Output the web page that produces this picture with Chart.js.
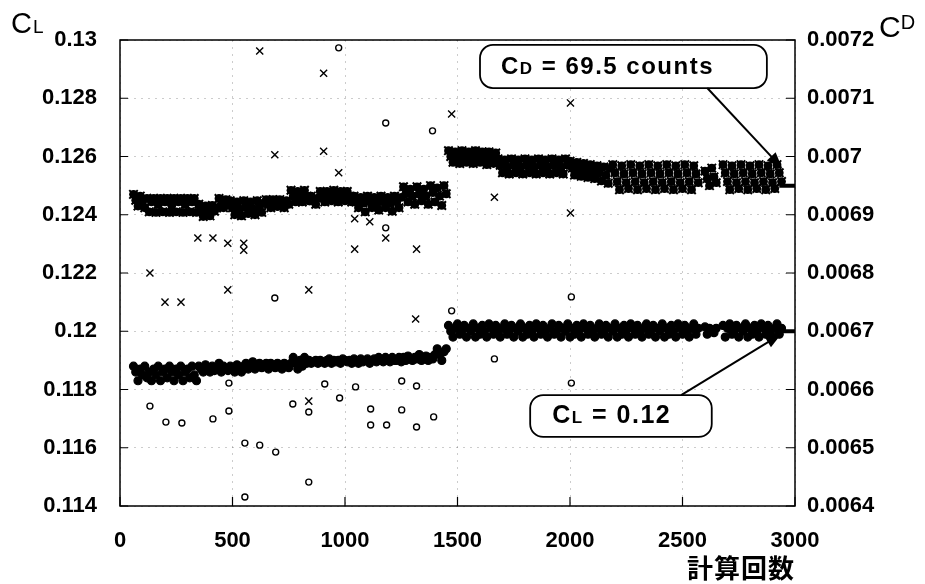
<!DOCTYPE html>
<html>
<head>
<meta charset="utf-8">
<script src="https://cdn.jsdelivr.net/npm/chart.js@4.4.1/dist/chart.umd.min.js"></script>
<style>
html, body { margin: 0; padding: 0; background: #fff; }
#wrap { width: 925px; height: 584px; position: relative; }
</style>
</head>
<body>
<div id="wrap"><canvas id="chart"></canvas></div>
<script>
// axis ticks
const iterTicks = [0, 500, 1000, 1500, 2000, 2500, 3000];
const clTicks = [0.114, 0.116, 0.118, 0.12, 0.122, 0.124, 0.126, 0.128, 0.13];
const cdTicks = [0.0064, 0.0065, 0.0066, 0.0067, 0.0068, 0.0069, 0.007, 0.0071, 0.0072];

// iteration counts of the dense history
const iters = [
  60, 70, 80, 90, 100, 110, 120, 130, 140, 150,
  160, 170, 180, 190, 200, 210, 220, 230, 240, 250,
  260, 270, 280, 290, 300, 310, 320, 330, 340, 350,
  360, 370, 380, 390, 400, 410, 420, 430, 440, 450,
  460, 470, 480, 490, 500, 510, 520, 530, 540, 550,
  560, 570, 580, 590, 600, 610, 620, 630, 640, 650,
  660, 670, 680, 690, 700, 710, 720, 730, 740, 750,
  760, 770, 780, 790, 800, 810, 820, 830, 840, 850,
  860, 870, 880, 890, 900, 910, 920, 930, 940, 950,
  960, 970, 980, 990, 1000, 1010, 1020, 1030, 1040, 1050,
  1060, 1070, 1080, 1090, 1100, 1110, 1120, 1130, 1140, 1150,
  1160, 1170, 1180, 1190, 1200, 1210, 1220, 1230, 1240, 1250,
  1260, 1270, 1280, 1290, 1300, 1310, 1320, 1330, 1340, 1350,
  1360, 1370, 1380, 1390, 1400, 1410, 1420, 1430, 1440, 1450,
  1460, 1470, 1480, 1490, 1500, 1510, 1520, 1530, 1540, 1550,
  1560, 1570, 1580, 1590, 1600, 1610, 1620, 1630, 1640, 1650,
  1660, 1670, 1680, 1690, 1700, 1710, 1720, 1730, 1740, 1750,
  1760, 1770, 1780, 1790, 1800, 1810, 1820, 1830, 1840, 1850,
  1860, 1870, 1880, 1890, 1900, 1910, 1920, 1930, 1940, 1950,
  1960, 1970, 1980, 1990, 2000, 2010, 2020, 2030, 2040, 2050,
  2060, 2070, 2080, 2090, 2100, 2110, 2120, 2130, 2140, 2150,
  2160, 2170, 2180, 2190, 2200, 2210, 2220, 2230, 2240, 2250,
  2260, 2270, 2280, 2290, 2300, 2310, 2320, 2330, 2340, 2350,
  2360, 2370, 2380, 2390, 2400, 2410, 2420, 2430, 2440, 2450,
  2460, 2470, 2480, 2490, 2500, 2510, 2520, 2530, 2540, 2550,
  2560, 2570, 2580, 2590, 2600, 2610, 2620, 2630, 2640, 2650,
  2660, 2670, 2680, 2690, 2700, 2710, 2720, 2730, 2740, 2750,
  2760, 2770, 2780, 2790, 2800, 2810, 2820, 2830, 2840, 2850,
  2860, 2870, 2880, 2890, 2900, 2910, 2920, 2930, 2940
];

// CL history (circles, left axis)
const clBand = [
  // 60-340
  0.1188, 0.1186, 0.1183, 0.1187, 0.1185, 0.1188, 0.1184, 0.1186, 0.1183, 0.1187,
  0.1185, 0.1188, 0.1183, 0.1186, 0.1187, 0.1184, 0.1188, 0.1186, 0.1183, 0.1187,
  0.1185, 0.1188, 0.1183, 0.1186, 0.1187, 0.1184, 0.1188, 0.1185, 0.1183,
  // 350-550
  0.1188, 0.1187, 0.1186, 0.11885, 0.1187, 0.1186, 0.1188, 0.11865, 0.1187, 0.1189,
  0.1186, 0.1188, 0.1187, 0.11865, 0.1188, 0.1187, 0.1186, 0.11885, 0.1187, 0.1186, 0.1188,
  // 560-760
  0.1189, 0.1187, 0.1188, 0.11895, 0.1187, 0.1188, 0.1189, 0.11875, 0.1188, 0.1189,
  0.1187, 0.1189, 0.1188, 0.11875, 0.1189, 0.1188, 0.1187, 0.1189, 0.1188, 0.11875, 0.1189,
  // 770-830
  0.1191, 0.1189, 0.1187, 0.1190, 0.1188, 0.1191, 0.1189,
  // 840-1250
  0.1190, 0.1189, 0.11895, 0.1190, 0.1189, 0.1190, 0.11895, 0.1189, 0.1190, 0.11905,
  0.1189, 0.1190, 0.11895, 0.1190, 0.1189, 0.11905, 0.1190, 0.11895, 0.1190, 0.1189,
  0.11905, 0.1190, 0.1189, 0.11905, 0.11895, 0.1190, 0.11905, 0.1189, 0.1190, 0.11905,
  0.11895, 0.1191, 0.1190, 0.11895, 0.1191, 0.1190, 0.11895, 0.1191, 0.1190, 0.1190,
  0.1191, 0.11895,
  // 1260-1400
  0.1191, 0.1190, 0.11915, 0.11905, 0.1190, 0.1191, 0.11905, 0.1192, 0.1190, 0.1191,
  0.11915, 0.1190, 0.1191, 0.11905, 0.1192,
  // 1410-1450
  0.1194, 0.1192, 0.1190, 0.1193, 0.1194,
  // 1460-2940
  0.1202, 0.1200, 0.1198, 0.1201, 0.12025, 0.1199, 0.1200, 0.1202, 0.1198, 0.1201,
  0.1200, 0.12025, 0.1198, 0.1201, 0.1199, 0.1202, 0.1200, 0.1198, 0.12025, 0.1201,
  0.1199, 0.1202, 0.1200, 0.1198, 0.1201, 0.12025, 0.1199, 0.1200, 0.1202, 0.1198,
  0.1201, 0.1200, 0.12025, 0.1198, 0.1201, 0.1199, 0.1202, 0.1200, 0.1198, 0.12025,
  0.1201, 0.1199, 0.1202, 0.1200, 0.1198, 0.1201, 0.12025, 0.1199, 0.1200, 0.1202,
  0.1198, 0.1201, 0.1200, 0.12025, 0.1198, 0.1201, 0.1199, 0.1202, 0.1200, 0.1198,
  0.12025, 0.1201, 0.1199, 0.1202, 0.1200, 0.1198, 0.1201, 0.12025, 0.1199, 0.1200,
  0.1202, 0.1198, 0.1201, 0.1200, 0.12025, 0.1198, 0.1201, 0.1199, 0.1202, 0.1200,
  0.1198, 0.12025, 0.1201, 0.1199, 0.1202, 0.1200, 0.1198, 0.1201, 0.12025, 0.1199,
  0.1200, 0.1202, 0.1198, 0.1201, 0.1200, 0.12025, 0.1198, 0.1201, 0.1199, 0.1202,
  0.1200, 0.1198, 0.12025, 0.1201, 0.1199, 0.1202, 0.1200, 0.1198, 0.1201, 0.12025,
  0.1199, 0.1201, null, null, 0.12015, 0.1199, 0.1201, 0.12005, 0.11995, 0.1201,
  null, null, 0.1202, 0.1198, 0.1201, 0.12025, 0.1199, 0.1200, 0.1202, 0.1198,
  0.1201, 0.1200, 0.12025, 0.1198, 0.1201, 0.1199, 0.1202, 0.1200, 0.1198, 0.12025,
  0.1201, 0.1199, 0.1202, 0.1200, 0.1198, 0.1201, 0.12025, 0.1199, 0.1201
];

// CD history (crosses, right axis)
const cdBand = [
  // 60-340
  0.006935, 0.006925, 0.006915, 0.006932, 0.006922, 0.006912, 0.006928, 0.006905, 0.006922, 0.006928,
  0.006904, 0.006918, 0.006928, 0.006905, 0.006922, 0.006928, 0.006904, 0.006916, 0.006928, 0.006905,
  0.006922, 0.006928, 0.006904, 0.006918, 0.006928, 0.006905, 0.006922, 0.006928, 0.006904,
  // 350-430
  0.006918, 0.006906, 0.006897, 0.006915, 0.006904, 0.006898, 0.006916, 0.006906, 0.006912,
  // 440-480
  0.006928, 0.006918, 0.006912, 0.006926, 0.006916,
  // 490-640
  0.006924, 0.006912, 0.006900, 0.006922, 0.006910, 0.006898, 0.006924, 0.006912, 0.006902, 0.006922,
  0.006910, 0.006900, 0.006924, 0.006912, 0.006904, 0.006920,
  // 650-750
  0.006926, 0.006918, 0.006912, 0.006926, 0.006920, 0.006914, 0.006926, 0.006918, 0.006912, 0.006924, 0.006918,
  // 760-840
  0.006942, 0.006932, 0.006922, 0.006940, 0.006930, 0.006922, 0.006942, 0.006932, 0.006924,
  // 850-880
  0.006932, 0.006924, 0.006918, 0.006928,
  // 890-1030
  0.006940, 0.006932, 0.006922, 0.006940, 0.006930, 0.006924, 0.006942, 0.006932, 0.006922, 0.006940,
  0.006930, 0.006924, 0.006940, 0.006932, 0.006922,
  // 1040-1250
  0.006932, 0.006922, 0.006912, 0.006930, 0.006920, 0.006905, 0.006932, 0.006922, 0.006912, 0.006930,
  0.006920, 0.006908, 0.006932, 0.006922, 0.006912, 0.006930, 0.006920, 0.006906, 0.006932, 0.006922,
  0.006912, 0.006930,
  // 1260-1450
  0.006948, 0.006936, 0.006922, 0.006944, 0.006932, 0.006918, 0.006948, 0.006936, 0.006924, 0.006944,
  0.006932, 0.006918, 0.006950, 0.006938, 0.006922, 0.006946, 0.006932, 0.006916, 0.006950, 0.006936,
  // 1460-1670
  0.007010, 0.007000, 0.006990, 0.007008, 0.006998, 0.006988, 0.007010, 0.007000, 0.006990, 0.007008,
  0.006998, 0.006988, 0.007010, 0.007000, 0.006990, 0.007008, 0.006996, 0.006986, 0.007008, 0.006998,
  0.006988, 0.007006,
  // 1680-1990
  0.006996, 0.006985, 0.006972, 0.006994, 0.006982, 0.006970, 0.006996, 0.006985, 0.006972, 0.006994,
  0.006982, 0.006970, 0.006996, 0.006985, 0.006972, 0.006994, 0.006982, 0.006970, 0.006996, 0.006985,
  0.006972, 0.006994, 0.006982, 0.006970, 0.006996, 0.006985, 0.006972, 0.006994, 0.006982, 0.006970,
  0.006996, 0.006985,
  // 2000-2180
  0.006992, 0.006980, 0.006968, 0.006990, 0.006978, 0.006966, 0.006988, 0.006976, 0.006964, 0.006986,
  0.006974, 0.006962, 0.006984, 0.006972, 0.006958, 0.006982, 0.006968, 0.006954, 0.006980,
  // 2190-2940
  0.006986, 0.006972, 0.006957, 0.006943, 0.006984, 0.006970, 0.006955, 0.006945, 0.006986, 0.006972,
  0.006957, 0.006943, 0.006984, 0.006970, 0.006955, 0.006945, 0.006986, 0.006972, 0.006957, 0.006943,
  0.006984, 0.006970, 0.006955, 0.006945, 0.006986, 0.006972, 0.006957, 0.006943, 0.006984, 0.006970,
  0.006955, 0.006945, 0.006986, 0.006972, 0.006957, 0.006943, 0.006984, 0.006970, 0.006955, null,
  null, 0.006975, 0.006962, 0.006950, 0.006980, 0.006965, 0.006955, null, null, 0.006986,
  0.006972, 0.006957, 0.006943, 0.006984, 0.006970, 0.006955, 0.006945, 0.006986, 0.006972, 0.006957,
  0.006943, 0.006984, 0.006970, 0.006955, 0.006945, 0.006986, 0.006972, 0.006957, 0.006943, 0.006984,
  0.006970, 0.006955, 0.006945, 0.006986, 0.006972, 0.006957
];

// scattered CL points
const clOutIter = [133, 204, 275, 413, 484, 484, 555, 621, 692, 555, 768, 839, 839, 910, 976, 1047,
  1114, 1252, 1114, 1185, 1318, 1394, 1318, 1252, 2006, 1181, 1474, 2006, 1664, 688, 972, 1181, 1389];
const clOutVal = [0.11743, 0.11688, 0.11685, 0.11699, 0.11726, 0.11822, 0.11616, 0.11609, 0.11585, 0.11431,
  0.11750, 0.11723, 0.11482, 0.11819, 0.11771, 0.11809, 0.11733, 0.11730, 0.11678, 0.11678, 0.11671,
  0.11706, 0.11812, 0.11829, 0.11822, 0.12355, 0.12070, 0.12118, 0.11905, 0.12114, 0.12973, 0.12715, 0.12688];

// scattered CD points
const cdOutIter = [621, 688, 905, 1474, 2002, 905, 972, 1664, 133, 200, 271, 346, 413, 479, 550, 550,
  479, 839, 1043, 1318, 1181, 1110, 1043, 1314, 2002, 839];
const cdOutVal = [0.007181, 0.007003, 0.007143, 0.007073, 0.007092, 0.007009, 0.006972, 0.006930, 0.006800,
  0.006750, 0.006750, 0.006860, 0.006860, 0.006851, 0.006851, 0.006839, 0.006771, 0.006771, 0.006841,
  0.006841, 0.006860, 0.006888, 0.006893, 0.006721, 0.006903, 0.006580];

function pairs(xs, ys) {
  const out = [];
  for (let i = 0; i < xs.length; i++) {
    if (ys[i] !== null) out.push({ x: xs[i], y: ys[i] });
  }
  return out;
}

const tickFont = { family: "'Liberation Sans', Arial, sans-serif", size: 22, weight: 'bold' };
const gridColor = 'rgba(0,0,0,0.2)';

function arrow(ctx, x1, y1, x2, y2) {
  const a = Math.atan2(y2 - y1, x2 - x1);
  const c = Math.cos(a), s = Math.sin(a);
  ctx.beginPath();
  ctx.moveTo(x1, y1);
  ctx.lineTo(x2 - 10 * c, y2 - 10 * s);
  ctx.stroke();
  ctx.beginPath();
  ctx.moveTo(x2, y2);
  ctx.lineTo(x2 - 16 * c + 6 * s, y2 - 16 * s - 6 * c);
  ctx.lineTo(x2 - 16 * c - 6 * s, y2 - 16 * s + 6 * c);
  ctx.closePath();
  ctx.fill();
}

// frame, inward ticks, labels and callouts
const decor = {
  id: 'decor',
  afterDatasetsDraw(chart) {
    const ctx = chart.ctx;
    const area = chart.chartArea;
    const xs = chart.scales.x, yl = chart.scales.y, yr = chart.scales.y2;
    ctx.save();
    ctx.strokeStyle = '#000';
    ctx.fillStyle = '#000';
    ctx.lineWidth = 1.5;
    ctx.strokeRect(area.left, area.top, area.right - area.left, area.bottom - area.top);
    ctx.lineWidth = 1.2;
    ctx.beginPath();
    clTicks.forEach(v => { const y = yl.getPixelForValue(v); ctx.moveTo(area.left, y); ctx.lineTo(area.left + 8, y); });
    cdTicks.forEach(v => { const y = yr.getPixelForValue(v); ctx.moveTo(area.right, y); ctx.lineTo(area.right - 9, y); });
    iterTicks.forEach(v => { const x = xs.getPixelForValue(v); ctx.moveTo(x, area.bottom); ctx.lineTo(x, area.bottom - 9); });
    ctx.stroke();

    // converged value marks at the right edge
    ctx.lineWidth = 4;
    ctx.beginPath();
    ctx.moveTo(xs.getPixelForValue(2930), yr.getPixelForValue(0.00695));
    ctx.lineTo(area.right, yr.getPixelForValue(0.00695));
    ctx.moveTo(xs.getPixelForValue(2930), yl.getPixelForValue(0.12));
    ctx.lineTo(area.right, yl.getPixelForValue(0.12));
    ctx.stroke();

    // CD callout
    ctx.lineWidth = 1.8;
    let bx = xs.getPixelForValue(1600), bx2 = xs.getPixelForValue(2875);
    let by = yl.getPixelForValue(0.12983), by2 = yl.getPixelForValue(0.12835);
    ctx.fillStyle = '#fff';
    ctx.beginPath();
    ctx.roundRect(bx, by, bx2 - bx, by2 - by, 13);
    ctx.fill();
    ctx.stroke();
    ctx.fillStyle = '#000';
    ctx.lineWidth = 2;
    arrow(ctx, xs.getPixelForValue(2610), by2, xs.getPixelForValue(2943), yr.getPixelForValue(0.00698));
    ctx.textBaseline = 'alphabetic';
    ctx.textAlign = 'left';
    ctx.letterSpacing = '1.5px';
    let tx = bx + 21, ty = by2 - 14;
    ctx.font = "bold 24px 'Liberation Sans', Arial, sans-serif";
    ctx.fillText('C', tx, ty);
    tx += ctx.measureText('C').width;
    ctx.font = "bold 17px 'Liberation Sans', Arial, sans-serif";
    ctx.fillText('D', tx, ty);
    tx += ctx.measureText('D').width;
    ctx.font = "bold 24px 'Liberation Sans', Arial, sans-serif";
    ctx.fillText(' = 69.5 counts', tx, ty);

    // CL callout
    ctx.lineWidth = 1.8;
    bx = xs.getPixelForValue(1823); bx2 = xs.getPixelForValue(2630);
    by = yl.getPixelForValue(0.11781); by2 = yl.getPixelForValue(0.11637);
    ctx.fillStyle = '#fff';
    ctx.beginPath();
    ctx.roundRect(bx, by, bx2 - bx, by2 - by, 13);
    ctx.fill();
    ctx.stroke();
    ctx.fillStyle = '#000';
    ctx.lineWidth = 2;
    arrow(ctx, xs.getPixelForValue(2494), by, xs.getPixelForValue(2940), yl.getPixelForValue(0.11991));
    tx = bx + 22; ty = by2 - 14;
    ctx.font = "bold 25px 'Liberation Sans', Arial, sans-serif";
    ctx.fillText('C', tx, ty);
    tx += ctx.measureText('C').width;
    ctx.font = "bold 17px 'Liberation Sans', Arial, sans-serif";
    ctx.fillText('L', tx, ty);
    tx += ctx.measureText('L').width;
    ctx.font = "bold 25px 'Liberation Sans', Arial, sans-serif";
    ctx.fillText(' = 0.12', tx, ty);
    ctx.restore();
  },
  afterDraw(chart) {
    const ctx = chart.ctx;
    ctx.save();
    ctx.fillStyle = '#000';
    ctx.textAlign = 'left';
    ctx.textBaseline = 'alphabetic';
    // left axis title
    ctx.font = "29px 'Liberation Sans', Arial, sans-serif";
    ctx.fillText('C', 11, 33);
    let w = ctx.measureText('C').width;
    ctx.font = "19px 'Liberation Sans', Arial, sans-serif";
    ctx.fillText('L', 11 + w + 1, 33);
    // right axis title
    ctx.font = "30px 'Liberation Sans', Arial, sans-serif";
    ctx.fillText('C', 879, 37);
    w = ctx.measureText('C').width;
    ctx.font = "20px 'Liberation Sans', Arial, sans-serif";
    ctx.fillText('D', 879 + w, 29);
    // x axis title
    ctx.letterSpacing = '1px';
    ctx.font = "bold 26px 'Noto Sans CJK JP', sans-serif";
    ctx.fillText('計算回数', 687, 578);
    ctx.restore();
  }
};

new Chart(document.getElementById('chart').getContext('2d'), {
  type: 'scatter',
  data: {
    datasets: [{
      label: 'CL',
      yAxisID: 'y',
      data: pairs(iters, clBand),
      pointStyle: 'circle',
      pointRadius: 4,
      pointBorderWidth: 1.2,
      pointBorderColor: '#000',
      pointBackgroundColor: '#000'
    }, {
      label: 'CL scattered',
      yAxisID: 'y',
      data: pairs(clOutIter, clOutVal),
      pointStyle: 'circle',
      pointRadius: 3,
      pointBorderWidth: 1.4,
      pointBorderColor: '#000',
      pointBackgroundColor: 'rgba(255,255,255,0)'
    }, {
      label: 'CD core',
      yAxisID: 'y2',
      data: pairs(iters, cdBand),
      pointStyle: 'circle',
      pointRadius: 4.4,
      pointBorderWidth: 0,
      pointBackgroundColor: '#000'
    }, {
      label: 'CD',
      yAxisID: 'y2',
      data: pairs(iters, cdBand),
      pointStyle: 'crossRot',
      pointRadius: 6,
      pointBorderWidth: 2,
      pointBorderColor: '#000'
    }, {
      label: 'CD scattered',
      yAxisID: 'y2',
      data: pairs(cdOutIter, cdOutVal),
      pointStyle: 'crossRot',
      pointRadius: 5,
      pointBorderWidth: 1.4,
      pointBorderColor: '#000'
    }]
  },
  options: {
    animation: false,
    responsive: true,
    maintainAspectRatio: false,
    layout: { padding: { top: 40 } },
    plugins: {
      legend: { display: false },
      tooltip: { enabled: false }
    },
    scales: {
      x: {
        type: 'linear',
        position: 'bottom',
        min: 0,
        max: 3000,
        afterBuildTicks: s => { s.ticks = iterTicks.map(v => ({ value: v })); },
        afterFit: s => { s.height = 78; },
        grid: { color: gridColor, lineWidth: 1, drawTicks: false },
        border: { display: false, dash: [2, 5] },
        ticks: { padding: 22, color: '#000', font: tickFont, maxRotation: 0, callback: v => String(v) }
      },
      y: {
        type: 'linear',
        position: 'left',
        min: 0.114,
        max: 0.13,
        afterBuildTicks: s => { s.ticks = clTicks.map(v => ({ value: v })); },
        afterFit: s => { s.width = 120; },
        grid: { color: gridColor, lineWidth: 1, drawTicks: false },
        border: { display: false, dash: [2, 5] },
        ticks: { padding: 23, color: '#000', font: tickFont, callback: v => String(+v.toFixed(3)) }
      },
      y2: {
        type: 'linear',
        position: 'right',
        min: 0.0064,
        max: 0.0072,
        afterBuildTicks: s => { s.ticks = cdTicks.map(v => ({ value: v })); },
        afterFit: s => { s.width = 130; },
        grid: { display: false, drawTicks: false },
        border: { display: false },
        ticks: { padding: 12, color: '#000', font: tickFont, callback: v => String(+v.toFixed(4)) }
      }
    }
  },
  plugins: [decor]
});
</script>
</body>
</html>
